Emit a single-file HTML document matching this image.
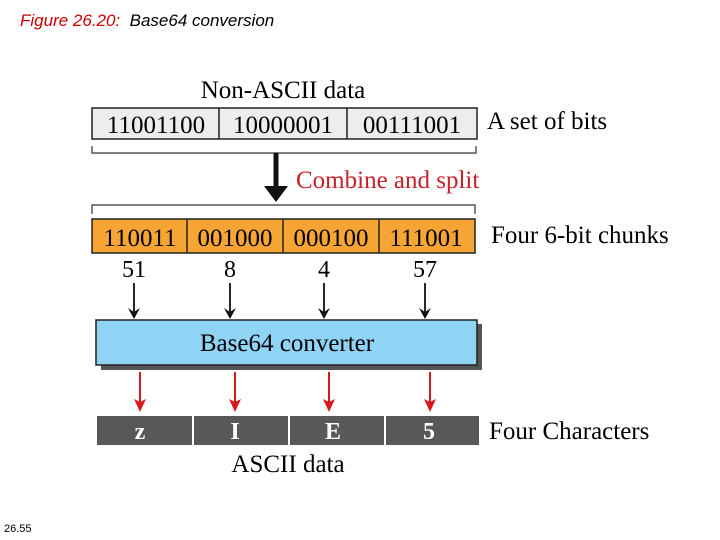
<!DOCTYPE html>
<html><head><style>
body{margin:0;width:720px;height:540px;background:#fff;position:relative;overflow:hidden;font-family:"Liberation Serif",serif}
.a{position:absolute;white-space:nowrap}
</style></head><body>
<div class="a" style="left:20px;top:11px;font:italic 17px 'Liberation Sans',sans-serif"><span style="color:#c00">Figure 26.20:</span>&nbsp; Base64 conversion</div>
<div class="a" style="left:4px;top:523px;font:11px 'Liberation Sans',sans-serif">26.55</div>
<svg width="720" height="540" style="position:absolute;left:0;top:0" font-family="Liberation Serif, serif">
<text x="283" y="98" font-size="25" text-anchor="middle">Non-ASCII data</text>
<rect x="92" y="108" width="385" height="31" fill="#eceded" stroke="#222" stroke-width="1.5"/>
<line x1="219" y1="108" x2="219" y2="139" stroke="#222" stroke-width="1.5"/>
<line x1="347" y1="108" x2="347" y2="139" stroke="#222" stroke-width="1.5"/>
<g font-size="25" text-anchor="middle"><text x="156" y="133">11001100</text><text x="283" y="133">10000001</text><text x="412" y="133">00111001</text></g>
<text x="487" y="129" font-size="25">A set of bits</text>
<path d="M92,146 V153 H476 V146" fill="none" stroke="#333" stroke-width="1.2"/>
<line x1="276" y1="153" x2="276" y2="188" stroke="#111" stroke-width="5"/>
<path d="M264,186 L276,202 L288,186z" fill="#111"/>
<text x="296" y="188" font-size="25" fill="#c8202a">Combine and split</text>
<path d="M92,214 V205 H475 V214" fill="none" stroke="#333" stroke-width="1.2"/>
<rect x="92" y="219" width="383" height="34" fill="#f6a535" stroke="#222" stroke-width="1.5"/>
<line x1="187" y1="219" x2="187" y2="253" stroke="#222" stroke-width="1.5"/>
<line x1="283" y1="219" x2="283" y2="253" stroke="#222" stroke-width="1.5"/>
<line x1="379" y1="219" x2="379" y2="253" stroke="#222" stroke-width="1.5"/>
<g font-size="25" text-anchor="middle"><text x="140" y="246">110011</text><text x="235" y="246">001000</text><text x="331" y="246">000100</text><text x="426" y="246">111001</text></g>
<text x="491" y="243" font-size="25">Four 6-bit chunks</text>
<g font-size="24" text-anchor="middle"><text x="134" y="277">51</text><text x="230" y="277">8</text><text x="324" y="277">4</text><text x="425" y="277">57</text></g>
<g stroke="#111" stroke-width="1.8"><line x1="134" y1="283" x2="134" y2="312"/><line x1="230" y1="283" x2="230" y2="312"/><line x1="324" y1="283" x2="324" y2="312"/><line x1="425" y1="283" x2="425" y2="312"/></g>
<g fill="#111"><path d="M128,308 L134,319 L140,308 L134,312z"/><path d="M224,308 L230,319 L236,308 L230,312z"/><path d="M318,308 L324,319 L330,308 L324,312z"/><path d="M419,308 L425,319 L431,308 L425,312z"/></g>
<rect x="101" y="324" width="381" height="46" fill="#555"/>
<rect x="96" y="320" width="381" height="45" fill="#8fd3f5" stroke="#222" stroke-width="1.5"/>
<text x="287" y="351" font-size="25" text-anchor="middle">Base64 converter</text>
<g stroke="#d71920" stroke-width="2"><line x1="140" y1="372" x2="140" y2="402"/><line x1="235" y1="372" x2="235" y2="402"/><line x1="329" y1="372" x2="329" y2="402"/><line x1="430" y1="372" x2="430" y2="402"/></g>
<g fill="#d71920"><path d="M134,399 L140,412 L146,399 L140,402z"/><path d="M229,399 L235,412 L241,399 L235,402z"/><path d="M323,399 L329,412 L335,399 L329,402z"/><path d="M424,399 L430,412 L436,399 L430,402z"/></g>
<g fill="#58585a"><rect x="97" y="416" width="95" height="29"/><rect x="194" y="416" width="94" height="29"/><rect x="290" y="416" width="94" height="29"/><rect x="386" y="416" width="93" height="29"/></g>
<g font-size="24" font-weight="bold" fill="#fff" text-anchor="middle"><text x="140" y="439">z</text><text x="235" y="439">I</text><text x="333" y="439">E</text><text x="429" y="439">5</text></g>
<text x="489" y="439" font-size="25">Four Characters</text>
<text x="288" y="472" font-size="25" text-anchor="middle">ASCII data</text>
</svg>
</body></html>
